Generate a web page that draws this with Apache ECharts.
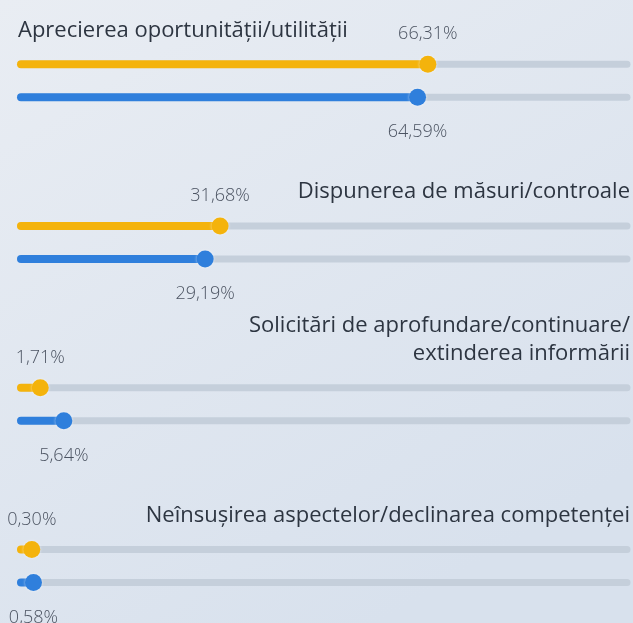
<!DOCTYPE html>
<html>
<head>
<meta charset="utf-8">
<script src="https://cdn.jsdelivr.net/npm/echarts@6/dist/echarts.min.js"></script>
<style>
html,body{margin:0;padding:0;}
#chart{width:633px;height:623px;}
</style>
</head>
<body>
<div id="chart"></div>
<script>
// ---- data ----
const categories = [
  'Aprecierea oportunității/utilității',
  'Dispunerea de măsuri/controale',
  'Solicitări de aprofundare/continuare/\nextinderea informării',
  'Neînsușirea aspectelor/declinarea competenței'
];
const seriesYellow = [66.31, 31.68, 1.71, 0.30];
const seriesBlue = [64.59, 29.19, 5.64, 0.58];

// ---- layout / style (not data) ----
const titleAlign = ['left', 'right', 'right', 'right'];
const X_MIN = -1.5, X_MAX = 99.5;
const Y_MAX = 623 / 161.7;
const TRACK = '#c5cfdb';
const YELLOW = '#f4b30c';
const BLUE = '#2f7fdc';
const LABEL_FONT = '300 18px "Open Sans", sans-serif';
const TITLE_FONT = '400 22px "Open Sans", sans-serif';
const TITLE_LH = 28;

function fmt(v) { return v.toFixed(2).replace('.', ',') + '%'; }

function makeRender(dy, color, labelDy) {
  return function (params, api) {
    const v = api.value(0), g = api.value(1);
    const c = api.coord([v, g + 0.5]);
    const s = api.coord([X_MIN, g + 0.5]);
    const e = api.coord([X_MAX, g + 0.5]);
    const y = c[1] + dy;
    return {
      type: 'group',
      children: [
        { type: 'line', shape: { x1: s[0], y1: y, x2: e[0], y2: y },
          style: { stroke: TRACK, lineWidth: 7, lineCap: 'round' } },
        { type: 'line', shape: { x1: s[0], y1: y, x2: c[0], y2: y },
          style: { stroke: color, lineWidth: 8, lineCap: 'round' } },
        { type: 'circle', shape: { cx: c[0], cy: y, r: 8.5 },
          style: { fill: color, shadowBlur: 3, shadowColor: 'rgba(255,255,255,0.6)' } },
        { type: 'text', x: Math.max(c[0], 27), y: y + labelDy,
          style: { text: fmt(v), align: 'center', verticalAlign: 'middle',
                   fill: '#4c5462', font: LABEL_FONT } }
      ]
    };
  };
}

function titleRender(params, api) {
  const g = api.value(1);
  const c = api.coord([X_MIN, g + 0.5]);
  const e = api.coord([X_MAX, g + 0.5]);
  const align = titleAlign[g];
  return {
    type: 'text',
    x: align === 'left' ? c[0] - 3 : e[0] + 3,
    y: c[1] - 16.5 - 34 + TITLE_LH / 2,
    style: { text: categories[g], align: align, verticalAlign: 'bottom',
             fill: '#2d3541', font: TITLE_FONT, lineHeight: TITLE_LH },
    z2: 10
  };
}

const chart = echarts.init(document.getElementById('chart'), null, { renderer: 'canvas' });
chart.setOption({
  backgroundColor: {
    type: 'linear', x: 0, y: 0, x2: 0.6, y2: 1,
    colorStops: [{ offset: 0, color: '#e9edf3' }, { offset: 1, color: '#d8e1ed' }]
  },
  animation: false,
  grid: { left: 21, right: 6, top: 0, bottom: 0 },
  xAxis: { type: 'value', min: X_MIN, max: X_MAX, show: false },
  yAxis: { type: 'value', min: 0, max: Y_MAX, inverse: true, show: false },
  series: [
    { type: 'custom', name: 'titles', renderItem: titleRender,
      data: categories.map((c, i) => [0, i]) },
    { type: 'custom', name: 'Seria 1', renderItem: makeRender(-16.5, YELLOW, -30),
      data: seriesYellow.map((v, i) => [v, i]) },
    { type: 'custom', name: 'Seria 2', renderItem: makeRender(16.5, BLUE, 35),
      data: seriesBlue.map((v, i) => [v, i]) }
  ]
});
</script>
</body>
</html>
